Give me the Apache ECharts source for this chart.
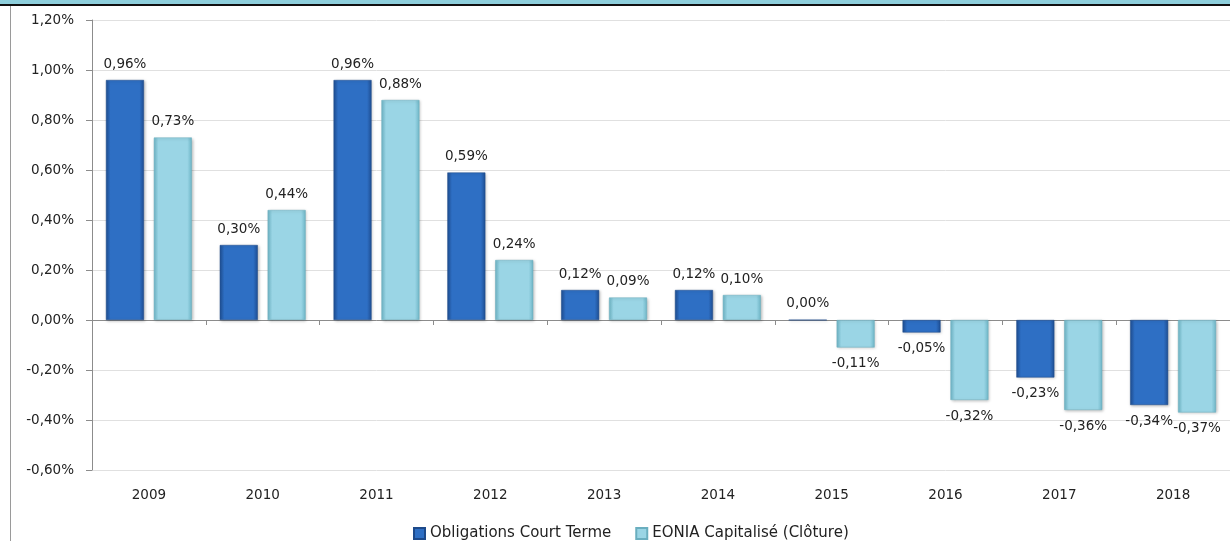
<!DOCTYPE html>
<html>
<head>
<meta charset="utf-8">
<script src="https://cdn.jsdelivr.net/npm/echarts@6/dist/echarts.min.js"></script>
<style>
html,body{margin:0;padding:0;background:#fff;overflow:hidden;}
#top{position:absolute;left:0;top:0;width:1230px;height:4px;background:#8ecfdc;}
#topline{position:absolute;left:0;top:4px;width:1230px;height:2px;background:#111;}
#leftline{position:absolute;left:10px;top:6px;width:1px;height:535px;background:#9a9a9a;}
#chart{position:absolute;left:0;top:0;width:1230px;height:541px;}
</style>
</head>
<body>
<div id="chart"></div>
<div id="top"></div>
<div id="topline"></div>
<div id="leftline"></div>
<script>
const categories = ['2009','2010','2011','2012','2013','2014','2015','2016','2017','2018'];
const seriesNames = ['Obligations Court Terme','EONIA Capitalisé (Clôture)'];
const obligations = [0.96, 0.30, 0.96, 0.59, 0.12, 0.12, 0.00, -0.05, -0.23, -0.34];
const eonia = [0.73, 0.44, 0.88, 0.24, 0.09, 0.10, -0.11, -0.32, -0.36, -0.37];
const yTicks = [-0.6, -0.4, -0.2, 0, 0.2, 0.4, 0.6, 0.8, 1.0, 1.2];

const fmt = v => v.toFixed(2).replace('.', ',') + '%';
const font = '"DejaVu Sans", "Noto Sans", sans-serif';

function toData(arr){
  return arr.map(v => ({value: v, label: {position: v < 0 ? 'bottom' : 'top'}}));
}
function grad(edge, mid){
  return {type:'linear', x:0, y:0, x2:1, y2:0, colorStops:[
    {offset:0, color:edge},{offset:0.12, color:mid},{offset:0.88, color:mid},{offset:1, color:edge}
  ]};
}

const chart = echarts.init(document.getElementById('chart'));
chart.setOption({
  animation:false,
  textStyle:{fontFamily:font},
  grid:{left:92, right:-10, top:20, bottom:71, containLabel:false},
  legend:{
    top:521, left:408, itemWidth:11, itemHeight:11, itemGap:24,
    icon:'rect',
    textStyle:{fontFamily:font, fontSize:15, color:'#222'},
    data:seriesNames
  },
  xAxis:[{
    type:'category', data:categories, position:'bottom',
    axisLine:{onZero:true, lineStyle:{color:'#8c8c8c'}},
    axisTick:{show:true, length:5, lineStyle:{color:'#8c8c8c'}},
    axisLabel:{show:false}
  },{
    type:'category', data:categories, position:'bottom',
    axisLine:{show:false}, axisTick:{show:false},
    axisLabel:{show:true, margin:18, fontSize:13.5, color:'#222', fontFamily:font}
  }],
  yAxis:{
    type:'value', min:-0.6, max:1.2, interval:0.2,
    axisLine:{show:true, lineStyle:{color:'#8c8c8c'}},
    axisTick:{show:true, length:6, lineStyle:{color:'#8c8c8c'}},
    splitLine:{lineStyle:{color:'#e0e0e0'}},
    axisLabel:{formatter:v => fmt(v), fontSize:13.5, color:'#222', margin:18, fontFamily:font}
  },
  series:[{
    name:seriesNames[0], type:'bar', barWidth:38, barGap:'26%',
    data:toData(obligations),
    itemStyle:{color:grad('#1f4f94','#2e6fc4'), borderColor:'#1d4a8a', borderWidth:0.5,
      shadowColor:'rgba(0,0,0,0.25)', shadowBlur:3, shadowOffsetX:1, shadowOffsetY:1},
    label:{show:true, formatter:p => fmt(p.value), fontSize:13.5, color:'#222', distance:9, fontFamily:font}
  },{
    name:seriesNames[1], type:'bar', barWidth:38,
    data:toData(eonia),
    itemStyle:{color:grad('#6fb7c8','#9ad5e5'), borderColor:'#6aaebf', borderWidth:0.5,
      shadowColor:'rgba(0,0,0,0.25)', shadowBlur:3, shadowOffsetX:1, shadowOffsetY:1},
    label:{show:true, formatter:p => fmt(p.value), fontSize:13.5, color:'#222', distance:9, fontFamily:font}
  }]
});
</script>
</body>
</html>
